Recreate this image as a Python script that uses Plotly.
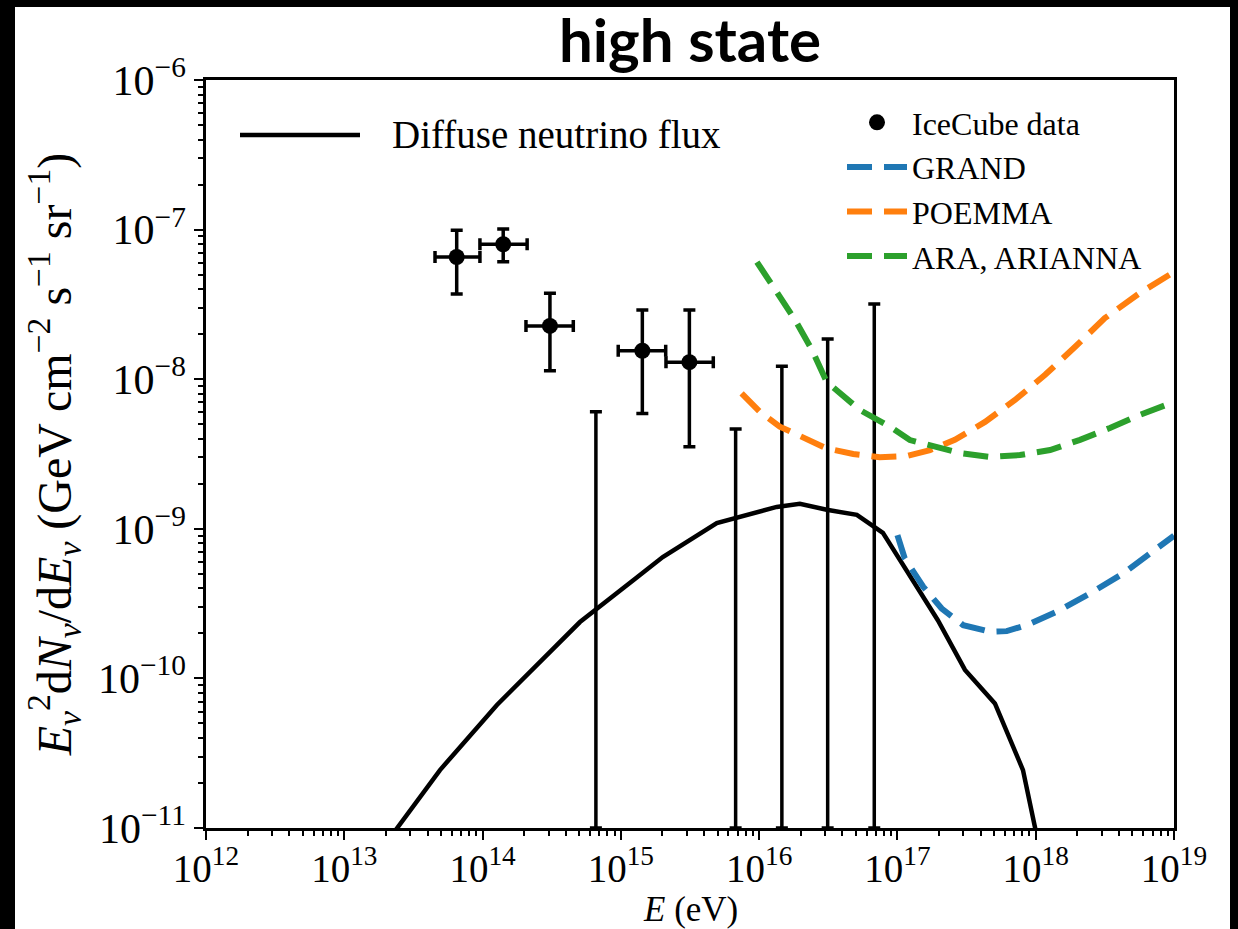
import plotly.graph_objects as go

# ---------------- data ----------------
# IceCube data points (E in eV, flux in GeV cm^-2 s^-1 sr^-1)
ic_E = [6.5e13, 1.41e14, 3.07e14, 1.43e15, 3.13e15]
ic_F = [6.56e-8, 7.98e-8, 2.27e-8, 1.55e-8, 1.30e-8]
ic_F_hi = [9.9e-8, 1.01e-7, 3.75e-8, 2.9e-8, 2.9e-8]
ic_F_lo = [3.71e-8, 6.1e-8, 1.14e-8, 5.9e-9, 3.54e-9]
ic_E_lo = [4.53e13, 9.57e13, 2.06e14, 9.57e14, 2.12e15]
ic_E_hi = [9.57e13, 2.10e14, 4.53e14, 2.11e15, 4.66e15]

# IceCube upper limits (bars reaching down to the axis floor)
ul_E = [6.6e14, 6.76e15, 1.46e16, 3.13e16, 6.8e16]
ul_F = [6.07e-9, 4.65e-9, 1.22e-8, 1.86e-8, 3.18e-8]

# Diffuse neutrino flux model
flux_E = [2.0e13, 4.92e13, 1.27e14, 5.06e14, 1.29e15, 2.01e15, 4.94e15, 1.34e16,
          1.97e16, 3.08e16, 5.09e16, 7.85e16, 1.96e17, 3.08e17, 5.07e17, 8.09e17,
          9.86e17, 1.07e18]
flux_F = [7.9e-12, 2.44e-11, 6.64e-11, 2.38e-10, 4.69e-10, 6.47e-10, 1.09e-9, 1.40e-9,
          1.47e-9, 1.34e-9, 1.24e-9, 9.4e-10, 2.45e-10, 1.14e-10, 6.8e-11, 2.44e-11,
          1.02e-11, 7.1e-12]

# GRAND sensitivity
grand_E = [1.0e17, 1.13e17, 1.54e17, 2.09e17, 2.99e17, 4.67e17, 6.17e17, 8.59e17,
           1.42e18, 2.47e18, 4.30e18, 1.0e19]
grand_F = [9.06e-10, 6.34e-10, 4.09e-10, 2.93e-10, 2.27e-10, 2.05e-10, 2.07e-10, 2.27e-10,
           2.79e-10, 3.70e-10, 5.04e-10, 9.0e-10]

# POEMMA sensitivity
poemma_E = [7.47e15, 1.01e16, 1.41e16, 2.20e16, 3.07e16, 4.79e16, 7.46e16, 1.17e17,
            1.72e17, 2.6e17, 4.30e17, 7.08e17, 1.17e18, 1.92e18, 3.16e18, 5.66e18, 1.0e19]
poemma_F = [8.05e-9, 6.07e-9, 4.82e-9, 3.93e-9, 3.45e-9, 3.16e-9, 3.01e-9, 3.07e-9,
            3.36e-9, 3.93e-9, 5.18e-9, 7.26e-9, 1.07e-8, 1.64e-8, 2.56e-8, 3.77e-8, 5.21e-8]

# ARA, ARIANNA sensitivity
ara_E = [9.64e15, 1.30e16, 1.82e16, 2.41e16, 3.08e16, 5.36e16, 8.83e16, 1.23e17, 1.87e17,
         2.83e17, 4.67e17, 7.69e17, 1.27e18, 2.09e18, 3.44e18, 5.66e18, 1.0e19]
ara_F = [6.07e-8, 3.94e-8, 2.49e-8, 1.57e-8, 9.6e-9, 6.22e-9, 4.81e-9, 3.92e-9, 3.52e-9,
         3.21e-9, 3.02e-9, 3.11e-9, 3.36e-9, 3.93e-9, 4.72e-9, 5.77e-9, 7.05e-9]

# axis decades and tick labels
x_exps = [12, 13, 14, 15, 16, 17, 18, 19]
y_exps = [-11, -10, -9, -8, -7, -6]
x_ticktext = ["10<sup>12</sup>", "10<sup>13</sup>", "10<sup>14</sup>", "10<sup>15</sup>",
              "10<sup>16</sup>", "10<sup>17</sup>", "10<sup>18</sup>", "10<sup>19</sup>"]
y_ticktext = ["10<sup>−11</sup>", "10<sup>−10</sup>", "10<sup>−9</sup>", "10<sup>−8</sup>",
              "10<sup>−7</sup>", "10<sup>−6</sup>"]

x_major = [10.0 ** k for k in x_exps]
y_major = [10.0 ** k for k in y_exps]
x_minor = [m * 10.0 ** k for k in x_exps[:-1] for m in range(2, 10)]
y_minor = [m * 10.0 ** k for k in y_exps[:-1] for m in range(2, 10)]
Y_FLOOR = y_major[0]

# ---------------- figure ----------------
serif = "Liberation Serif"
fig = go.Figure()

fig.add_trace(go.Scatter(
    x=flux_E, y=flux_F, mode="lines", name="Diffuse neutrino flux",
    line=dict(color="black", width=4.5), showlegend=False))

fig.add_trace(go.Scatter(
    x=ul_E, y=ul_F, mode="markers", showlegend=False, hoverinfo="skip",
    marker=dict(size=1, color="rgba(0,0,0,0)"),
    error_y=dict(type="data", symmetric=False,
                 array=[0 for _ in ul_F],
                 arrayminus=[f - Y_FLOOR for f in ul_F],
                 color="black", thickness=3.5, width=6)))

fig.add_trace(go.Scatter(
    x=ic_E, y=ic_F, mode="markers", name="IceCube data",
    marker=dict(size=16, color="black"),
    error_y=dict(type="data", symmetric=False,
                 array=[h - f for h, f in zip(ic_F_hi, ic_F)],
                 arrayminus=[f - l for f, l in zip(ic_F, ic_F_lo)],
                 color="black", thickness=3.5, width=6),
    error_x=dict(type="data", symmetric=False,
                 array=[h - e for h, e in zip(ic_E_hi, ic_E)],
                 arrayminus=[e - l for e, l in zip(ic_E, ic_E_lo)],
                 color="black", thickness=3.5, width=6)))

dash = "25px,12px"
fig.add_trace(go.Scatter(x=grand_E, y=grand_F, mode="lines", name="GRAND",
                         line=dict(color="#1f77b4", width=6, dash=dash)))
fig.add_trace(go.Scatter(x=poemma_E, y=poemma_F, mode="lines", name="POEMMA",
                         line=dict(color="#ff7f0e", width=6, dash=dash)))
fig.add_trace(go.Scatter(x=ara_E, y=ara_F, mode="lines", name="ARA, ARIANNA",
                         line=dict(color="#2ca02c", width=6, dash=dash)))

W, H = 1238, 929
L, R, T, B = 206, 64, 80, 101
pw, ph = W - L - R, H - T - B

def px(xp):
    return (xp - L) / pw

def py(yp):
    return (H - B - yp) / ph

axis_common = dict(
    type="log", showline=True, linecolor="black", linewidth=2.5, mirror=True,
    ticks="outside", ticklen=9, tickwidth=2, tickcolor="black", automargin=False,
    showgrid=False, zeroline=False, tickmode="array",
)

def minor_of(vals):
    return dict(tickmode="array", tickvals=vals, ticks="outside", ticklen=5,
                tickwidth=1.5, tickcolor="black", showgrid=False)

fig.update_layout(
    width=W, height=H,
    margin=dict(l=L, r=R, t=T, b=B),
    paper_bgcolor="black", plot_bgcolor="white",
    title=dict(text="<b>high state</b>", x=0.5, xref="paper", xanchor="center",
               y=1 - 41 / H, yref="container", yanchor="middle",
               font=dict(family="Lato", size=60, color="black")),
    xaxis=dict(range=[x_exps[0], x_exps[-1]], tickvals=x_major, ticktext=x_ticktext,
               minor=minor_of(x_minor), ticklabelstandoff=-5,
               tickfont=dict(family=serif, size=39, color="black"),
               **axis_common),
    yaxis=dict(range=[y_exps[0], y_exps[-1]], tickvals=y_major, ticktext=y_ticktext,
               minor=minor_of(y_minor),
               tickfont=dict(family=serif, size=42, color="black"),
               title=dict(text="<i>E</i><sub><i>ν</i></sub><sup>2</sup>d<i>N</i><sub><i>ν</i></sub>"
                               "/d<i>E</i><sub><i>ν</i></sub>"
                               " (GeV cm<sup>−2</sup> s<sup>−1</sup> sr<sup>−1</sup>)",
                          standoff=12,
                          font=dict(family=serif, size=48, color="black")),
               **axis_common),
    legend=dict(x=px(842), y=py(95), xanchor="left", yanchor="top",
                bgcolor="rgba(0,0,0,0)", borderwidth=0, itemwidth=60,
                font=dict(family=serif, size=32, color="black"),
                tracegroupgap=0),
    showlegend=True,
    shapes=[
        dict(type="rect", xref="paper", yref="paper", layer="below",
             x0=px(15), x1=px(1230), y0=py(960), y1=py(7),
             fillcolor="white", line=dict(width=0)),
        dict(type="line", xref="paper", yref="paper",
             x0=px(240), x1=px(360), y0=py(135), y1=py(135),
             line=dict(color="black", width=4.5)),
    ],
    annotations=[
        dict(text="Diffuse neutrino flux", xref="paper", yref="paper",
             x=px(390), y=py(135), xanchor="left", yanchor="middle",
             showarrow=False, font=dict(family=serif, size=39, color="black")),
        dict(text="<i>E</i> (eV)", xref="paper", yref="paper",
             x=0.5, y=py(909), xanchor="center", yanchor="middle",
             showarrow=False, font=dict(family=serif, size=35, color="black")),
    ],
)

fig.write_html("out.html")
